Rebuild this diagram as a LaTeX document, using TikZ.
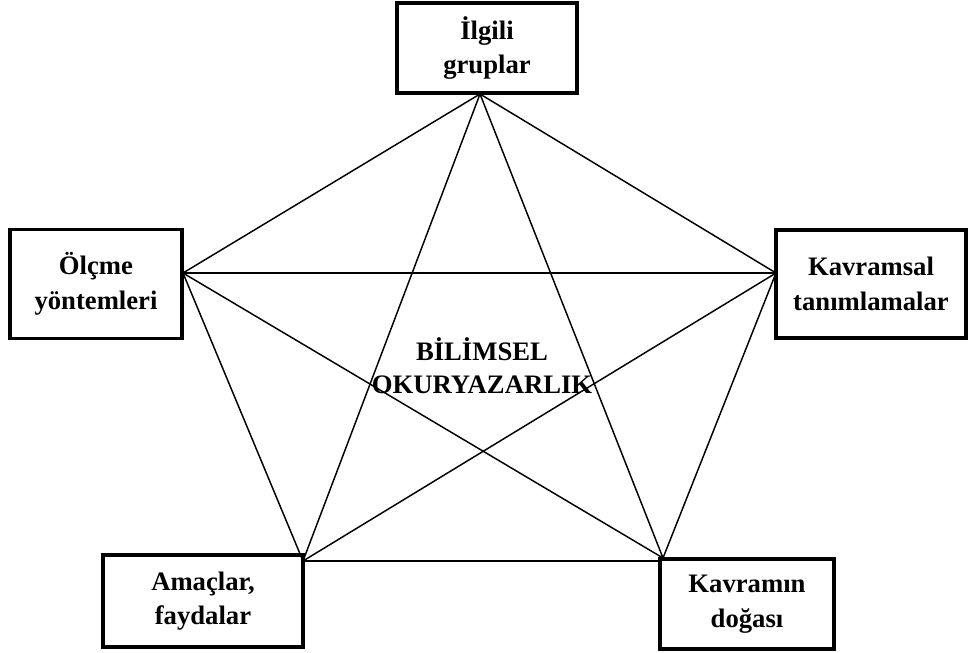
\documentclass[tikz,border=0pt]{standalone}
\usepackage{fontspec}
\setmainfont{Liberation Serif}
\usetikzlibrary{positioning}
\tikzset{
    kutu/.style={draw, rectangle, line width=2.8pt, align=center, fill=white, font=\fontsize{20}{26}\selectfont\bfseries, inner sep=2pt},
    merkez/.style={align=center, font=\fontsize{20}{25}\selectfont\bfseries, inner sep=0pt},
    baglanti/.style={-, black, line width=1.1pt},
}

\begin{document}
\begin{tikzpicture}[x=0.75pt, y=-0.75pt]
        \useasboundingbox (0,0) rectangle (968,653);

        \node[kutu, minimum width=135pt, minimum height=68pt] (grp) at (487,48) {İlgili\\gruplar};
        \node[kutu, minimum width=129pt, minimum height=81.75pt] (olc) at (96,284) {Ölçme\\yöntemleri};
        \node[kutu, minimum width=142.5pt, minimum height=81pt] (kvr) at (871,284) {Kavramsal\\tanımlamalar};
        \node[kutu, minimum width=150pt, minimum height=69pt] (amc) at (203,601) {Amaçlar,\\faydalar};
        \node[kutu, minimum width=130.5pt, minimum height=68pt] (dog) at (747,604) {Kavramın\\doğası};

        \node[merkez] (bo) at (482,366) {BİLİMSEL\\OKURYAZARLIK};

        % uc noktalar
        \coordinate (pT) at (480,94);
        \coordinate (pL) at (183,273);
        \coordinate (pR) at (776,273);
        \coordinate (pBL) at (303,561);
        \coordinate (pBR) at (663,558);

        \begin{scope}[on background layer/.try]
        \draw[baglanti] (pT) -- (pL);
        \draw[baglanti] (pT) -- (pR);
        \draw[baglanti] (pT) -- (pBL);
        \draw[baglanti] (pT) -- (pBR);

        \draw[baglanti] (pL) -- (pR);
        \draw[baglanti] (pL) -- (pBL);
        \draw[baglanti] (pL) -- (pBR);

        \draw[baglanti] (pR) -- (pBL);
        \draw[baglanti] (pR) -- (pBR);

        \draw[baglanti] (pBL) -- (pBL -| dog.west);
        \end{scope}
\end{tikzpicture}
\end{document}
